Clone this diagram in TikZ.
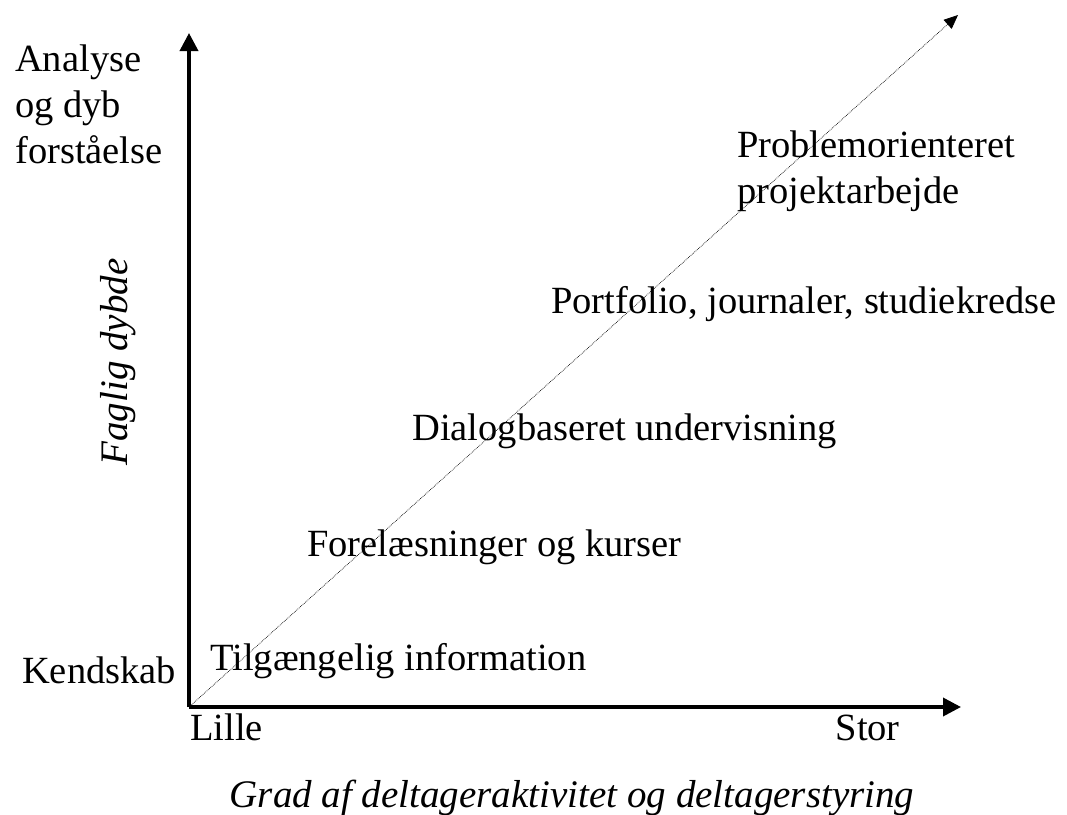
\documentclass[tikz,border=0pt]{standalone}
\usepackage{fontspec}
\setmainfont{Liberation Serif}
\usetikzlibrary{positioning,arrows.meta}

\begin{document}
\begin{tikzpicture}[x=1pt,y=-1pt]
	\tikzset{axis/.style = {line width=3.6pt, -{Triangle[length=18pt,width=18pt]}}}
	\tikzset{diag/.style = {densely dotted, line width=0.7pt, -{Triangle[length=14pt,width=12pt]}}}
	\tikzset{lbl/.style = {anchor=base west, inner sep=0pt, font=\fontsize{38.5}{46}\selectfont}}
	\tikzset{title/.style = {anchor=base, inner sep=0pt, font=\fontsize{39}{46}\selectfont\itshape}}

	\useasboundingbox (0,0) rectangle (1067,814);
	\clip (0,0) rectangle (1067,814);

	% axes
	\coordinate (o) at (189,707);
	\coordinate (ytop) at (189,33);
	\coordinate (xend) at (961,707);
	\coordinate (dend) at (958,15);
	\draw[axis] (o) -- (ytop);
	\draw[axis] (o) -- (xend);
	\draw[diag] (o) -- (dend);

	% axis labels
	\node[lbl, align=left, anchor=north west] (top) at (15,45) {Analyse\\og dyb\\forståelse};
	\node[lbl] (kend) at (22,683) {Kendskab};
	\node[lbl] (lille) at (190,740) {Lille};
	\node[lbl, anchor=base east] (stor) at (900,740) {Stor};
	\node[title, rotate=90] (ytitle) at (127,362) {Faglig dybde};
	\node[title] (xtitle) at (572,807) {Grad af deltageraktivitet og deltagerstyring};

	% methods
	\node[lbl] (tilg) at (210,670) {Tilgængelig information};
	\node[lbl] (forel) at (307,556) {Forelæsninger og kurser};
	\node[lbl] (dialog) at (412,440) {Dialogbaseret undervisning};
	\node[lbl] (portf) at (551,313) {Portfolio, journaler, studiekredse};
	\node[lbl, align=left, anchor=north west] (probl) at (737,131) {Problemorienteret\\projektarbejde};
\end{tikzpicture}
\end{document}
